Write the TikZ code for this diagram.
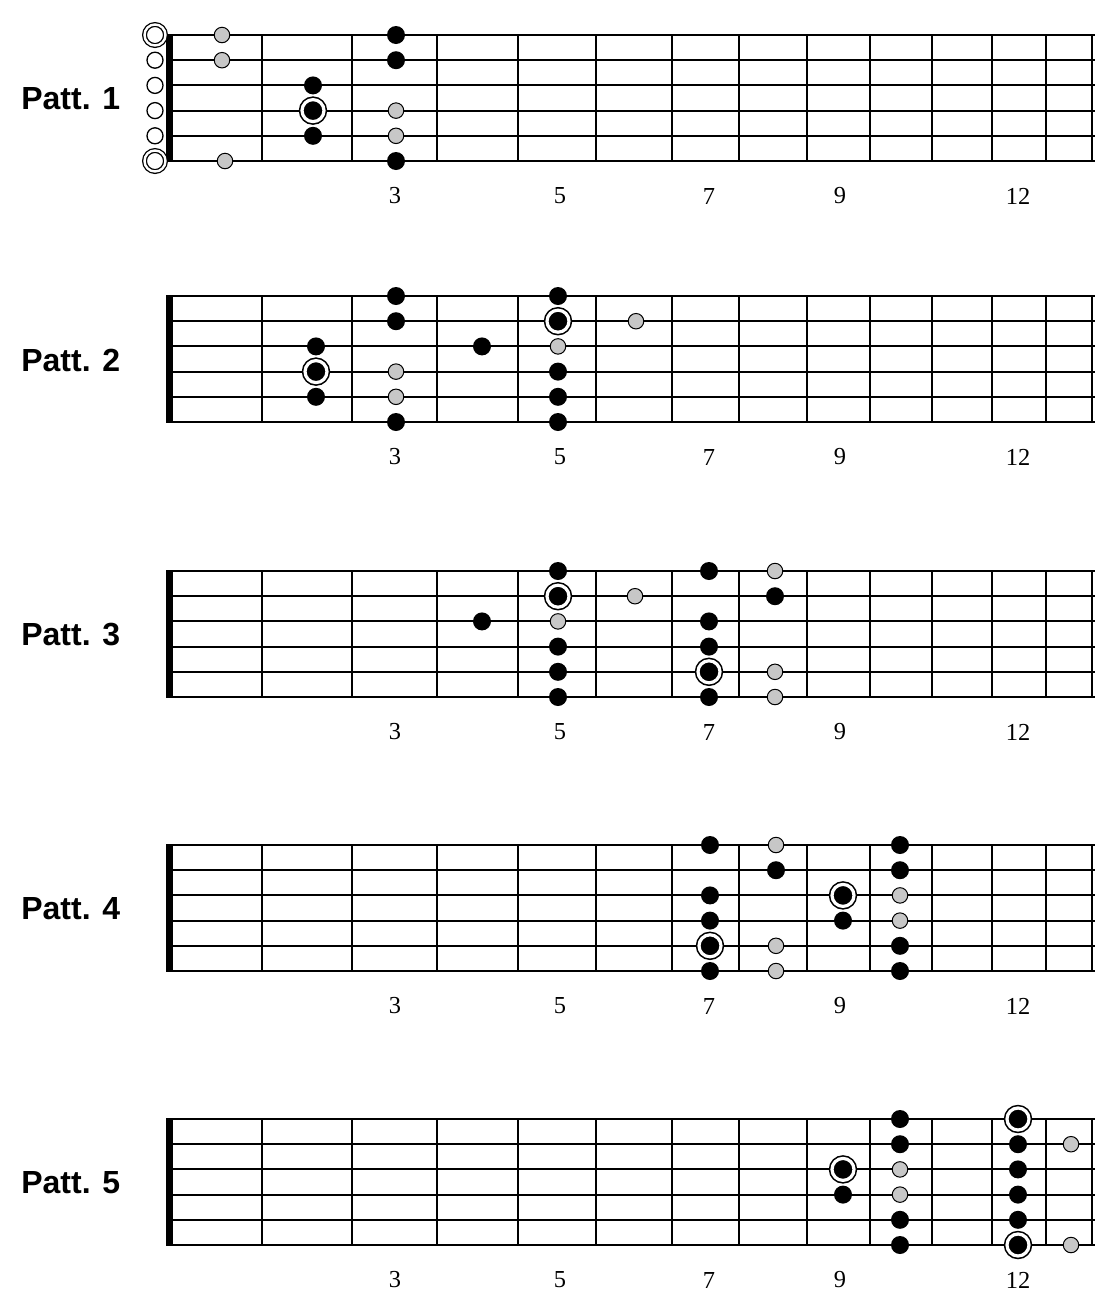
\documentclass[tikz,border=0pt]{standalone}
\usepackage{fontspec}
\setmainfont{Liberation Serif}
\setsansfont{Liberation Sans}
\usepackage{tikz}
\usepackage{xcolor}
\definecolor{dotgray}{gray}{0.78}

\begin{document}
\begin{tikzpicture}[x=0.02cm, y=-0.02cm]
                        % one unit = one pixel of the reference, y runs down
                        \tikzstyle{every node}=[inner sep=0pt]
                        \tikzstyle{blacknote}=[circle, fill=black, minimum size=0.36cm]
                        \tikzstyle{graynote}=[circle, draw=black, fill=dotgray, line width=0.02cm, minimum size=0.31cm]
                        \tikzstyle{rootnote}=[circle, draw=black, fill=black, double=white, double distance=0.064cm, line width=0.032cm, minimum size=0.44cm]
                        \tikzstyle{opennote}=[circle, draw=black, fill=white, line width=0.026cm, minimum size=0.32cm]
                        \tikzstyle{openroot}=[circle, draw=black, fill=white, double=white, double distance=0.048cm, line width=0.026cm, minimum size=0.42cm]
                        \tikzstyle{pattlabel}=[anchor=west, font=\sffamily\bfseries\fontsize{18.2}{20}\selectfont]
                        \tikzstyle{fretnum}=[font=\fontsize{13.9}{15}\selectfont]
                        \useasboundingbox (0,0) rectangle (1115,1316);

                        % the five fretboards
                        \foreach \p/\t in {1/35,2/296,3/571,4/845,5/1119} {
                                \foreach \s in {0,...,5}
                                        \draw[line width=1.1pt] (169,\t+\s*25.2) -- (1095,\t+\s*25.2);
                                \foreach \f in {262,352,437,518,596,672,739,807,870,932,992,1046,1092}
                                        \draw[line width=1.5pt] (\f,\t) -- (\f,\t+126);
                                \draw[line width=0.14cm] (169.5,\t-1) -- (169.5,\t+127);
                                \node[pattlabel] (patt\p) at (21,\t+64) {Patt. \p};
                                \foreach \n/\x in {3/395,5/560,7/709,9/840,12/1018}
                                        \node[fretnum] (num\p-\n) at (\x,\t+161) {\n};
                        }

                        % Patt. 1
                        \foreach \s in {2,...,5}
                                \node[opennote] (p1o\s) at (155,9.8+25.2*\s) {};
                        \node[openroot] (p1o1) at (155,35) {};
                        \node[openroot] (p1o6) at (155,161) {};
                        \foreach \x/\s in {313/3,313/5,396/1,396/2,396/6}
                                \node[blacknote] (p1b\x-\s) at (\x,9.8+25.2*\s) {};
                        \foreach \x/\s in {222/1,222/2,225/6,396/4,396/5}
                                \node[graynote] (p1g\x-\s) at (\x,9.8+25.2*\s) {};
                        \node[rootnote] (p1r) at (313,110.6) {};

                        % Patt. 2
                        \foreach \x/\s in {316/3,316/5,396/1,396/2,396/6,482/3,558/1,558/4,558/5,558/6}
                                \node[blacknote] (p2b\x-\s) at (\x,270.8+25.2*\s) {};
                        \foreach \x/\s in {396/4,396/5,558/3,636/2}
                                \node[graynote] (p2g\x-\s) at (\x,270.8+25.2*\s) {};
                        \foreach \x/\s in {316/4,558/2}
                                \node[rootnote] (p2r\x-\s) at (\x,270.8+25.2*\s) {};

                        % Patt. 3
                        \foreach \x/\s in {482/3,558/1,558/4,558/5,558/6,709/1,709/3,709/4,709/6,775/2}
                                \node[blacknote] (p3b\x-\s) at (\x,545.8+25.2*\s) {};
                        \foreach \x/\s in {558/3,635/2,775/1,775/5,775/6}
                                \node[graynote] (p3g\x-\s) at (\x,545.8+25.2*\s) {};
                        \foreach \x/\s in {558/2,709/5}
                                \node[rootnote] (p3r\x-\s) at (\x,545.8+25.2*\s) {};

                        % Patt. 4
                        \foreach \x/\s in {710/1,710/3,710/4,710/6,776/2,843/4,900/1,900/2,900/5,900/6}
                                \node[blacknote] (p4b\x-\s) at (\x,819.8+25.2*\s) {};
                        \foreach \x/\s in {776/1,776/5,776/6,900/3,900/4}
                                \node[graynote] (p4g\x-\s) at (\x,819.8+25.2*\s) {};
                        \foreach \x/\s in {710/5,843/3}
                                \node[rootnote] (p4r\x-\s) at (\x,819.8+25.2*\s) {};

                        % Patt. 5
                        \foreach \x/\s in {843/4,900/1,900/2,900/5,900/6,1018/2,1018/3,1018/4,1018/5}
                                \node[blacknote] (p5b\x-\s) at (\x,1093.8+25.2*\s) {};
                        \foreach \x/\s in {900/3,900/4,1071/2,1071/6}
                                \node[graynote] (p5g\x-\s) at (\x,1093.8+25.2*\s) {};
                        \foreach \x/\s in {843/3,1018/1,1018/6}
                                \node[rootnote] (p5r\x-\s) at (\x,1093.8+25.2*\s) {};
                \end{tikzpicture}
\end{document}
